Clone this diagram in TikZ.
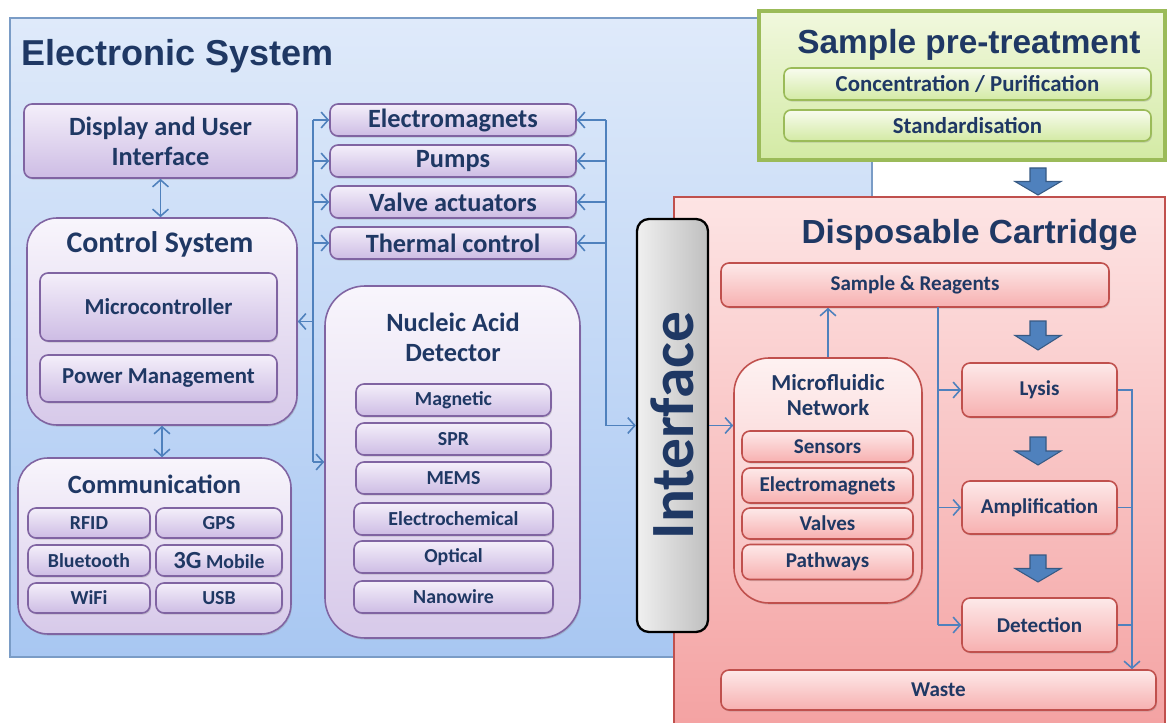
\documentclass[tikz,border=0pt]{standalone}
\usepackage{fontspec}
\setmainfont{Carlito}
\newfontfamily\headfont{Liberation Sans}
\usetikzlibrary{arrows.meta}
\usetikzlibrary{shadows}
\usetikzlibrary{calc}

\definecolor{navy}{HTML}{1F3864}
\definecolor{linkblue}{HTML}{4F81BD}
\definecolor{elecTop}{HTML}{DFEAFA}
\definecolor{elecBot}{HTML}{A8C7F2}
\definecolor{elecLine}{HTML}{7A9CC6}
\definecolor{purTop}{HTML}{F4EFFA}
\definecolor{purBot}{HTML}{CDBCE4}
\definecolor{purLine}{HTML}{8064A2}
\definecolor{grnTop}{HTML}{F1F8DE}
\definecolor{grnBot}{HTML}{D3EAA4}
\definecolor{grnLine}{HTML}{9BBB59}
\definecolor{redTop}{HTML}{FDE4E4}
\definecolor{redBot}{HTML}{F4A2A2}
\definecolor{rboxTop}{HTML}{FDE9E9}
\definecolor{rboxBot}{HTML}{F7B0B0}
\definecolor{redLine}{HTML}{C0504D}

\tikzset{
	wh/.style 2 args={minimum width=#1*0.02cm, minimum height=#2*0.02cm},
	sh/.style={drop shadow={opacity=0.3, shadow xshift=0.6pt, shadow yshift=-0.9pt}},
	t17/.style={font=\bfseries\fontsize{17}{19}\selectfont},
	t15/.style={font=\bfseries\fontsize{15}{17}\selectfont},
	t13/.style={font=\bfseries\fontsize{13}{14.7}\selectfont},
	t12/.style={font=\bfseries\fontsize{12}{14}\selectfont},
	t11/.style={font=\bfseries\fontsize{11.3}{13}\selectfont},
	head/.style={font=\headfont\bfseries\fontsize{19}{21}\selectfont, text=navy, inner sep=0},
	panel/.style={inner sep=0},
	pbox/.style={draw=purLine, line width=0.9pt, rounded corners=0.16cm, top color=purTop, bottom color=purBot, inner sep=0, text=navy, align=center, sh},
	pgroup/.style={pbox, rounded corners=0.6cm, top color=purTop!60!white, bottom color=purBot!80!white},
	gbox/.style={draw=grnLine, line width=0.9pt, rounded corners=0.14cm, top color=grnTop!50!white, bottom color=grnBot, inner sep=0, text=navy, align=center, sh},
	rbox/.style={draw=redLine, line width=0.9pt, rounded corners=0.16cm, top color=rboxTop, bottom color=rboxBot, inner sep=0, text=navy, align=center, sh},
	rgroup/.style={rbox, rounded corners=0.7cm, top color=rboxTop!60!white, bottom color=rboxBot!90!white},
	link/.style={draw=linkblue, line width=0.9pt, >={Straight Barb[length=4pt,width=9pt]}},
	blk/.style={fill=linkblue, draw=linkblue!70!black, line width=0.6pt}
}

\begin{document}
\begin{tikzpicture}[x=0.02cm, y=-0.02cm]
	\useasboundingbox (0,0) rectangle (1167,723);

	% electronic system
	\node[panel, wh={862}{639}, draw=elecLine, line width=1pt, top color=elecTop, bottom color=elecBot] (elec) at (441, 337.5) {};
	\node[head, anchor=west, font=\headfont\bfseries\fontsize{20.5}{22}\selectfont] (electitle) at (21, 56) {Electronic System};

	\node[pbox, t15, wh={273}{74}] (disp) at (160.5, 141) {Display and User\\Interface};

	\node[pgroup, wh={270}{207}] (ctrl) at (162, 321.5) {};
	\node[t17, text=navy] (ctrltitle) at (160, 244) {Control System};
	\node[pbox, t13, wh={237}{68}] (mcu) at (158.5, 307) {Microcontroller};
	\node[pbox, t13, wh={237}{47}] (pwr) at (158.5, 378.5) {Power Management};

	\node[pgroup, wh={273}{176}] (comm) at (154.5, 546) {};
	\node[t15, text=navy] (commtitle) at (154.5, 484) {Communication};
	\node[pbox, t11, wh={122}{30}] (rfid) at (89, 523) {RFID};
	\node[pbox, t11, wh={126}{30}] (gps) at (219, 523) {GPS};
	\node[pbox, t11, wh={122}{31}] (bt) at (89, 560.5) {Bluetooth};
	\node[pbox, t11, wh={126}{31}] (mobile) at (219, 560.5) {{\fontsize{14}{14}\selectfont 3G} Mobile};
	\node[pbox, t11, wh={122}{30}] (wifi) at (89, 598) {WiFi};
	\node[pbox, t11, wh={126}{30}] (usb) at (219, 598) {USB};

	\node[pbox, t15, wh={246}{32}] (em) at (453, 120) {Electromagnets};
	\node[pbox, t15, wh={246}{32}] (pump) at (453, 161) {Pumps};
	\node[pbox, t15, wh={246}{32}] (valve) at (453, 202) {Valve actuators};
	\node[pbox, t15, wh={246}{32}] (therm) at (453, 243) {Thermal control};

	\node[pgroup, rounded corners=0.8cm, wh={255}{352}] (nad) at (452.5, 462) {};
	\node[t15, text=navy, align=center] (nadtitle) at (453, 337) {Nucleic Acid\\Detector};
	\node[pbox, t11, wh={195}{32}] (mag) at (453.5, 400) {Magnetic};
	\node[pbox, t11, wh={195}{32}] (spr) at (453.5, 439) {SPR};
	\node[pbox, t11, wh={195}{32}] (mems) at (453.5, 478) {MEMS};
	\node[pbox, t11, wh={199}{32}] (echem) at (453.5, 519) {Electrochemical};
	\node[pbox, t11, wh={199}{32}] (opt) at (453.5, 557) {Optical};
	\node[pbox, t11, wh={199}{32}] (nano) at (453.5, 597) {Nanowire};

	\draw[link, <->] (disp.south) -- (disp.south |- ctrl.north);
	\draw[link, <->] (ctrl.south) -- (ctrl.south |- comm.north);

	\coordinate (lbus) at (313, 120);
	\draw[link] (lbus) -- (lbus |- nad.west);
	\foreach \n in {em, pump, valve, therm}
		\draw[link, ->] (lbus |- \n.west) -- (\n.west);
	\draw[link, ->] (lbus |- ctrl.east) -- (ctrl.east);
	\draw[link, ->] (lbus |- nad.west) -- (nad.west);

	% sample pre-treatment
	\node[panel, wh={406}{149}, draw=grnLine, line width=2.5pt, top color=grnTop, bottom color=grnBot] (pre) at (962, 85.5) {};
	\node[head] (pretitle) at (969, 45) {Sample pre-treatment};
	\node[gbox, t13, wh={367}{32}] (conc) at (967.5, 84) {Concentration / Purification};
	\node[gbox, t13, wh={367}{31}] (std) at (967.5, 125.5) {Standardisation};

	% disposable cartridge
	\node[panel, wh={491}{533}, draw=redLine, line width=1.6pt, top color=redTop, bottom color=redBot] (cart) at (919.5, 463.5) {};
	\node[head] (carttitle) at (969.5, 235) {Disposable Cartridge};

	\node[rbox, t12, wh={388}{44}] (sr) at (915, 285) {Sample \& Reagents};
	\node[rgroup, wh={188}{245}] (mfn) at (828, 480.5) {};
	\node[t13, text=navy, align=center] (mfntitle) at (828, 395) {Microfluidic\\Network};
	\node[rbox, t12, wh={171}{31}] (sens) at (827.5, 446.5) {Sensors};
	\node[rbox, t12, wh={171}{35}] (emag) at (827.5, 485.5) {Electromagnets};
	\node[rbox, t12, wh={171}{31}] (valves) at (827.5, 523.5) {Valves};
	\node[rbox, t12, wh={171}{35}] (path) at (827.5, 562) {Pathways};
	\node[rbox, t12, wh={155}{54}] (lysis) at (1039.5, 390) {Lysis};
	\node[rbox, t12, wh={155}{53}] (amp) at (1039.5, 507.5) {Amplification};
	\node[rbox, t12, wh={155}{54}] (det) at (1039.5, 625) {Detection};
	\node[rbox, t12, wh={435}{40}] (waste) at (938.5, 690) {Waste};

	\foreach \y/\h in {168/27, 321/29, 437/28, 555/27}
		\draw[blk] (1030,\y) -- (1046,\y) -- (1046,\y+\h/2) -- (1061,\y+\h/2) -- (1038,\y+\h) -- (1015,\y+\h/2) -- (1030,\y+\h/2) -- cycle;

	\draw[link, ->] (mfn.north) -- (mfn.north |- sr.south);
	\coordinate (cbus) at (938, 307);
	\draw[link] (cbus) -- (cbus |- det.west);
	\foreach \n in {lysis, amp, det}
		\draw[link, ->] (cbus |- \n.west) -- (\n.west);
	\coordinate (wbus) at (1132, 390);
	\draw[link, ->] (lysis.east) -- (wbus |- lysis.east) -- (wbus |- waste.north);
	\draw[link] (amp.east) -- (wbus |- amp.east);
	\draw[link] (det.east) -- (wbus |- det.east);

	% interface
	\node[draw=black, line width=1.3pt, rounded corners=0.24cm, left color=gray!12, right color=gray!50, wh={71}{413}, inner sep=0, text=navy, font=\bfseries\fontsize{35}{35}\selectfont] (iface) at (672.5, 425.5) {\rotatebox{90}{Interface}};

	\coordinate (rbus) at (606, 120);
	\draw[link] (rbus) -- (rbus |- iface.west);
	\foreach \n in {em, pump, valve, therm}
		\draw[link, ->] (rbus |- \n.east) -- (\n.east);
	\draw[link, ->] (rbus |- iface.west) -- (iface.west);
	\draw[link, ->] (iface.east) -- (iface.east -| mfn.west);
\end{tikzpicture}
\end{document}
